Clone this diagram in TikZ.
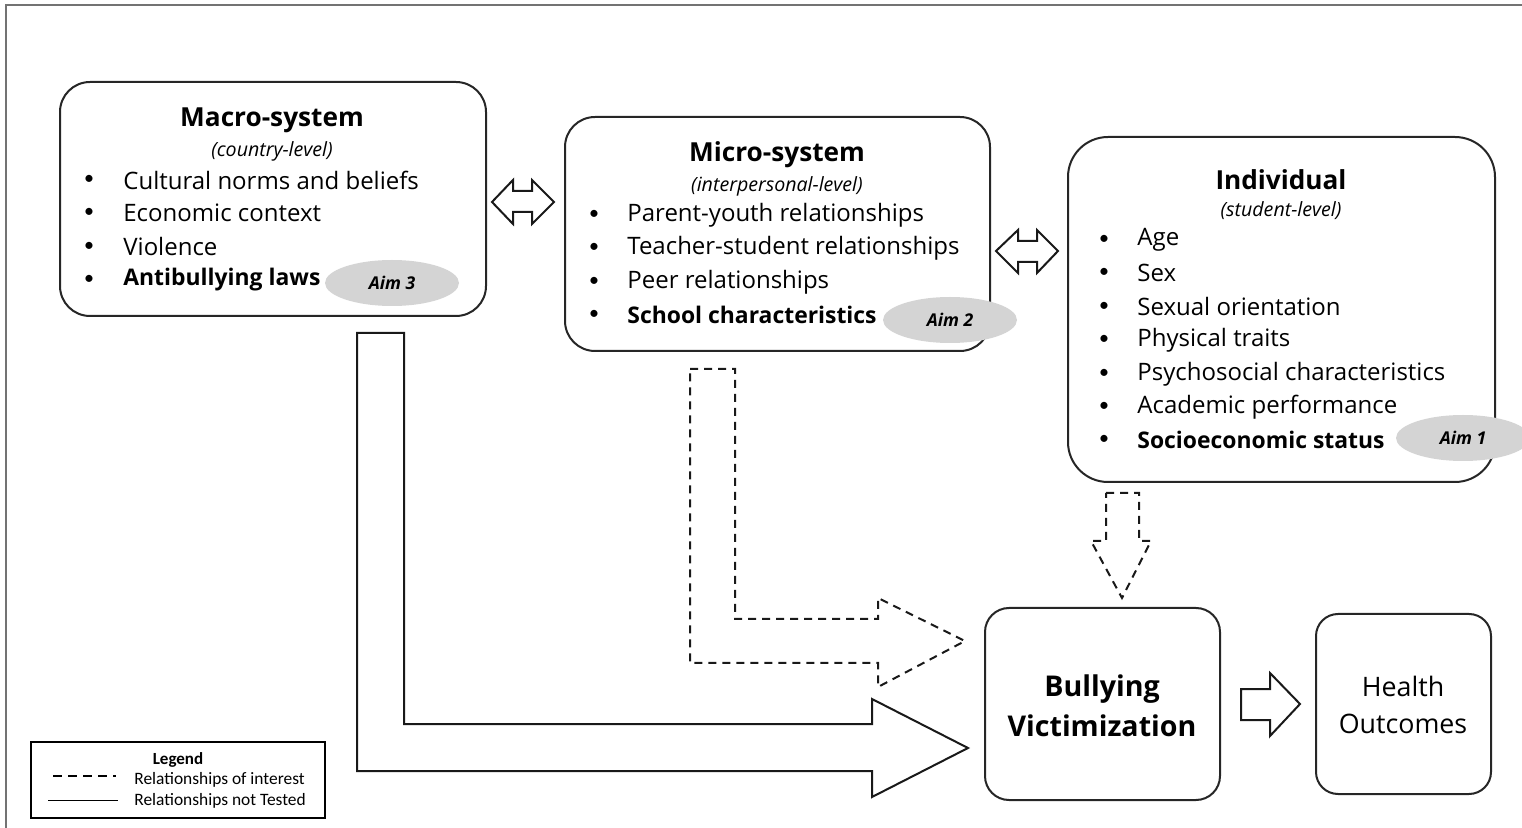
\documentclass[tikz,border=0pt]{standalone}
\usepackage{fontspec}
\setmainfont{Carlito}
\newfontfamily\boxfont{Open Sans}
\newcommand{\bolditem}[1]{{\bfseries\fontsize{11.45}{14}\selectfont #1}}
\usetikzlibrary{fit,shapes.geometric}
\begin{document}
\begin{tikzpicture}[x=0.5pt,y=-0.5pt,
  sysbox/.style={draw=black!85, line width=1pt, inner sep=0pt, rounded corners=#1},
  sysbox/.default=15pt,
  ttl/.style={font=\boxfont\bfseries\fontsize{13.1}{15}\selectfont, inner sep=0pt},
  sub/.style={font=\boxfont\itshape\fontsize{9.8}{11}\selectfont, inner sep=0pt},
  itm/.style={font=\boxfont\fontsize{12}{14}\selectfont, anchor=west, inner sep=0pt},
  bul/.style={font=\fontsize{10}{12}\selectfont, inner sep=0pt},
  aim/.style={ellipse, fill=black!17, draw=none, inner sep=0pt,
              minimum width=67pt, minimum height=23pt,
              font=\boxfont\bfseries\itshape\fontsize{8.8}{10}\selectfont},
  blockarrow/.style={draw=black!90, line width=1pt, line join=miter},
  dasharrow/.style={blockarrow, dash pattern=on 4pt off 3pt},
  legtxt/.style={font=\fontsize{8.7}{10}\selectfont, anchor=west, inner sep=0pt}]
\useasboundingbox (0,0) rectangle (1522,828);
% outer frame
\coordinate (fbl) at (6,840);
\coordinate (ftl) at (6,5);
\coordinate (ftr) at (1530,5);
\draw[black!55, line width=1pt] (fbl) -- (ftl) -- (ftr);

% ---------- Macro-system ----------
\node[sysbox, fit={(60,82)(486,316)}] (macro) {};
\node[ttl] (macrot) at (272,120) {Macro-system};
\node[sub] (macros) at (272,151) {(country-level)};
\foreach \y/\t [count=\i] in {180/Cultural norms and beliefs, 213/Economic context, 247/Violence, 280/\bolditem{Antibullying laws}}{
  \node[bul] (macrob\i) at (89,\y) {\textbullet};
  \node[itm] (macroi\i) at (123,\y) {\t};
}
\node[aim] (aim3) at (392,283) {Aim 3};

% ---------- Micro-system ----------
\node[sysbox, fit={(565,117)(990,351)}] (micro) {};
\node[ttl] (microt) at (777,155) {Micro-system};
\node[sub] (micros) at (777,186) {(interpersonal-level)};
\foreach \y/\t [count=\i] in {215/Parent-youth relationships, 248/Teacher-student relationships, 282/Peer relationships, 315/\bolditem{School characteristics}}{
  \node[bul] (microb\i) at (594,\y) {\textbullet};
  \node[itm] (microi\i) at (627,\y) {\t};
}
\node[aim] (aim2) at (950,320) {Aim 2};

% ---------- Individual ----------
\node[sysbox=20pt, fit={(1068,137)(1495,482)}] (indiv) {};
\node[ttl] (indivt) at (1281,180) {Individual};
\node[sub] (indivs) at (1281,211) {(student-level)};
\foreach \y/\t [count=\i] in {240/Age, 273/Sex, 307/Sexual orientation, 340/Physical traits, 374/Psychosocial characteristics, 407/Academic performance, 440/\bolditem{Socioeconomic status}}{
  \node[bul] (indivb\i) at (1104,\y) {\textbullet};
  \node[itm] (indivi\i) at (1137,\y) {\t};
}
\node[aim] (aim1) at (1463,438) {Aim 1};

% ---------- Outcomes ----------
\node[sysbox=12pt, fit={(985,608)(1220,800)}] (bully) {};
\node[font=\boxfont\bfseries\fontsize{14.3}{20}\selectfont, align=center, inner sep=0pt] (bullyt) at (1102,706) {Bullying\\Victimization};
\node[sysbox=11pt, fit={(1316,614)(1491,794)}] (health) {};
\node[font=\boxfont\fontsize{13.4}{18.5}\selectfont, align=center, inner sep=0pt] (healtht) at (1403,705) {Health\\Outcomes};

% ---------- Double arrows ----------
\draw[blockarrow] (492,202) -- (513,180) -- (513,191) -- (532,191) -- (532,180) -- (554,202)
  -- (532,224) -- (532,212) -- (513,212) -- (513,224) -- cycle;
\draw[blockarrow] (996,251) -- (1018,230) -- (1018,241) -- (1037,241) -- (1037,230) -- (1058,251)
  -- (1037,273) -- (1037,262) -- (1018,262) -- (1018,273) -- cycle;

% ---------- Solid L arrow (macro -> bullying) ----------
\draw[blockarrow] (357,333) -- (404,333) -- (404,724) -- (872,724) -- (872,699) -- (968,748)
  -- (872,797) -- (872,771) -- (357,771) -- cycle;

% ---------- Dashed L arrow (micro -> bullying) ----------
\draw[dasharrow] (690,369) -- (735,369) -- (735,619) -- (878,619) -- (878,598) -- (965,641)
  -- (878,687) -- (878,663) -- (690,663) -- cycle;

% ---------- Dashed down arrow (individual -> bullying) ----------
\draw[dasharrow] (1106,493) -- (1139,493) -- (1139,541) -- (1151,541) -- (1122,598)
  -- (1091,541) -- (1106,541) -- cycle;

% ---------- Arrow bullying -> health ----------
\draw[blockarrow] (1241,689) -- (1270,689) -- (1270,673) -- (1300,704) -- (1270,736)
  -- (1270,720) -- (1241,720) -- cycle;

% ---------- Legend ----------
\node[draw=black, line width=0.7pt, inner sep=0pt, fit={(31,742)(325,818)}] (legend) {};
\node[font=\bfseries\fontsize{8.5}{10}\selectfont, inner sep=0pt] (legt) at (178,760) {Legend};
\coordinate (ld1) at (53,776);
\coordinate (ld2) at (116,776);
\coordinate (ls1) at (48,800);
\coordinate (ls2) at (118,800);
\draw[line width=1.2pt, dash pattern=on 4.5pt off 3pt] (ld1) -- (ld2);
\draw[line width=0.4pt] (ls1) -- (ls2);
\node[legtxt] (leg1) at (134,780) {Relationships of interest};
\node[legtxt] (leg2) at (134,801) {Relationships not Tested};
\end{tikzpicture}
\end{document}
